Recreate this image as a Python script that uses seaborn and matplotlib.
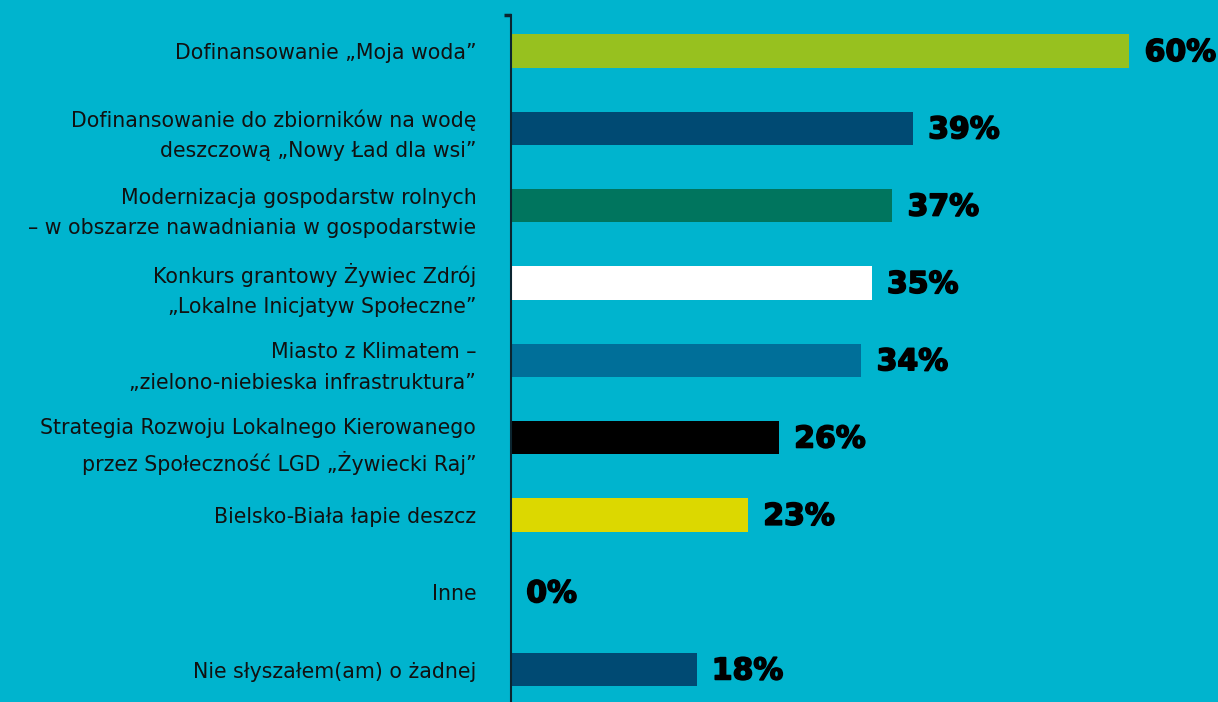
import matplotlib
matplotlib.use("Agg")
import matplotlib.pyplot as plt
import matplotlib.patheffects as pe
import seaborn as sns
import pandas as pd

categories = [
    "Dofinansowanie \u201eMoja woda\u201d",
    "Dofinansowanie do zbiornik\u00f3w na wod\u0119\ndeszczow\u0105 \u201eNowy \u0141ad dla wsi\u201d",
    "Modernizacja gospodarstw rolnych\n\u2013 w obszarze nawadniania w gospodarstwie",
    "Konkurs grantowy \u017bywiec Zdr\u00f3j\n\u201eLokalne Inicjatyw Spo\u0142eczne\u201d",
    "Miasto z Klimatem \u2013\n\u201ezielono-niebieska infrastruktura\u201d",
    "Strategia Rozwoju Lokalnego Kierowanego\nprzez Spo\u0142eczno\u015b\u0107 LGD \u201e\u017bywiecki Raj\u201d",
    "Bielsko-Bia\u0142a \u0142apie deszcz",
    "Inne",
    "Nie s\u0142ysza\u0142em(am) o \u017cadnej",
]
values = [60, 39, 37, 35, 34, 26, 23, 0, 18]
bar_colors = ["#97C11F", "#004A73", "#00755E", "#FFFFFF", "#006F99",
              "#000000", "#DCD800", "#00B4CE", "#004A73"]
value_labels = ["60%", "39%", "37%", "35%", "34%", "26%", "23%", "0%", "18%"]

BG = "#00B4CE"

sns.set_theme(style="white")
plt.rcParams["font.family"] = ["DejaVu Sans"]

df = pd.DataFrame({"category": categories, "value": values})

fig = plt.figure(figsize=(12.18, 7.02), dpi=100, facecolor=BG)
ax = fig.add_axes([511 / 1218, 0.0, 1 - 511 / 1218, 1 - 15 / 702])
ax.set_facecolor(BG)

sns.barplot(data=df, x="value", y="category", hue="category",
            palette=bar_colors, legend=False, width=0.43, ax=ax,
            order=categories, hue_order=categories, saturation=1,
            linewidth=0, edgecolor="none")

ax.set_xlim(0, 68.6)
ax.set_ylim(8.42, -0.466)

for i, (v, lab) in enumerate(zip(values, value_labels)):
    ax.annotate(lab, xy=(v, i), xytext=(11, -1), textcoords="offset points",
                ha="left", va="center", fontsize=21.5, fontweight="bold",
                color="#000000",
                path_effects=[pe.Stroke(linewidth=1.2, foreground="#000000"),
                              pe.Normal()])

ax.set_xlabel("")
ax.set_ylabel("")
ax.set_xticks([])
ax.tick_params(axis="y", length=0, pad=25)
for t in ax.get_yticklabels():
    t.set_fontsize(14.8)
    t.set_color("#111111")
    t.set_linespacing(1.65)
    t.set_ha("right")

for s in ["top", "right", "bottom"]:
    ax.spines[s].set_visible(False)
ax.spines["left"].set_color("#0B2530")
ax.spines["left"].set_linewidth(1.5)
# small cap at top of axis line
ax.plot([-0.7, 0], [-0.466, -0.466], color="#0B2530", lw=2.5,
        clip_on=False, solid_capstyle="butt")

fig.savefig("out.png", dpi=100, facecolor=BG)
